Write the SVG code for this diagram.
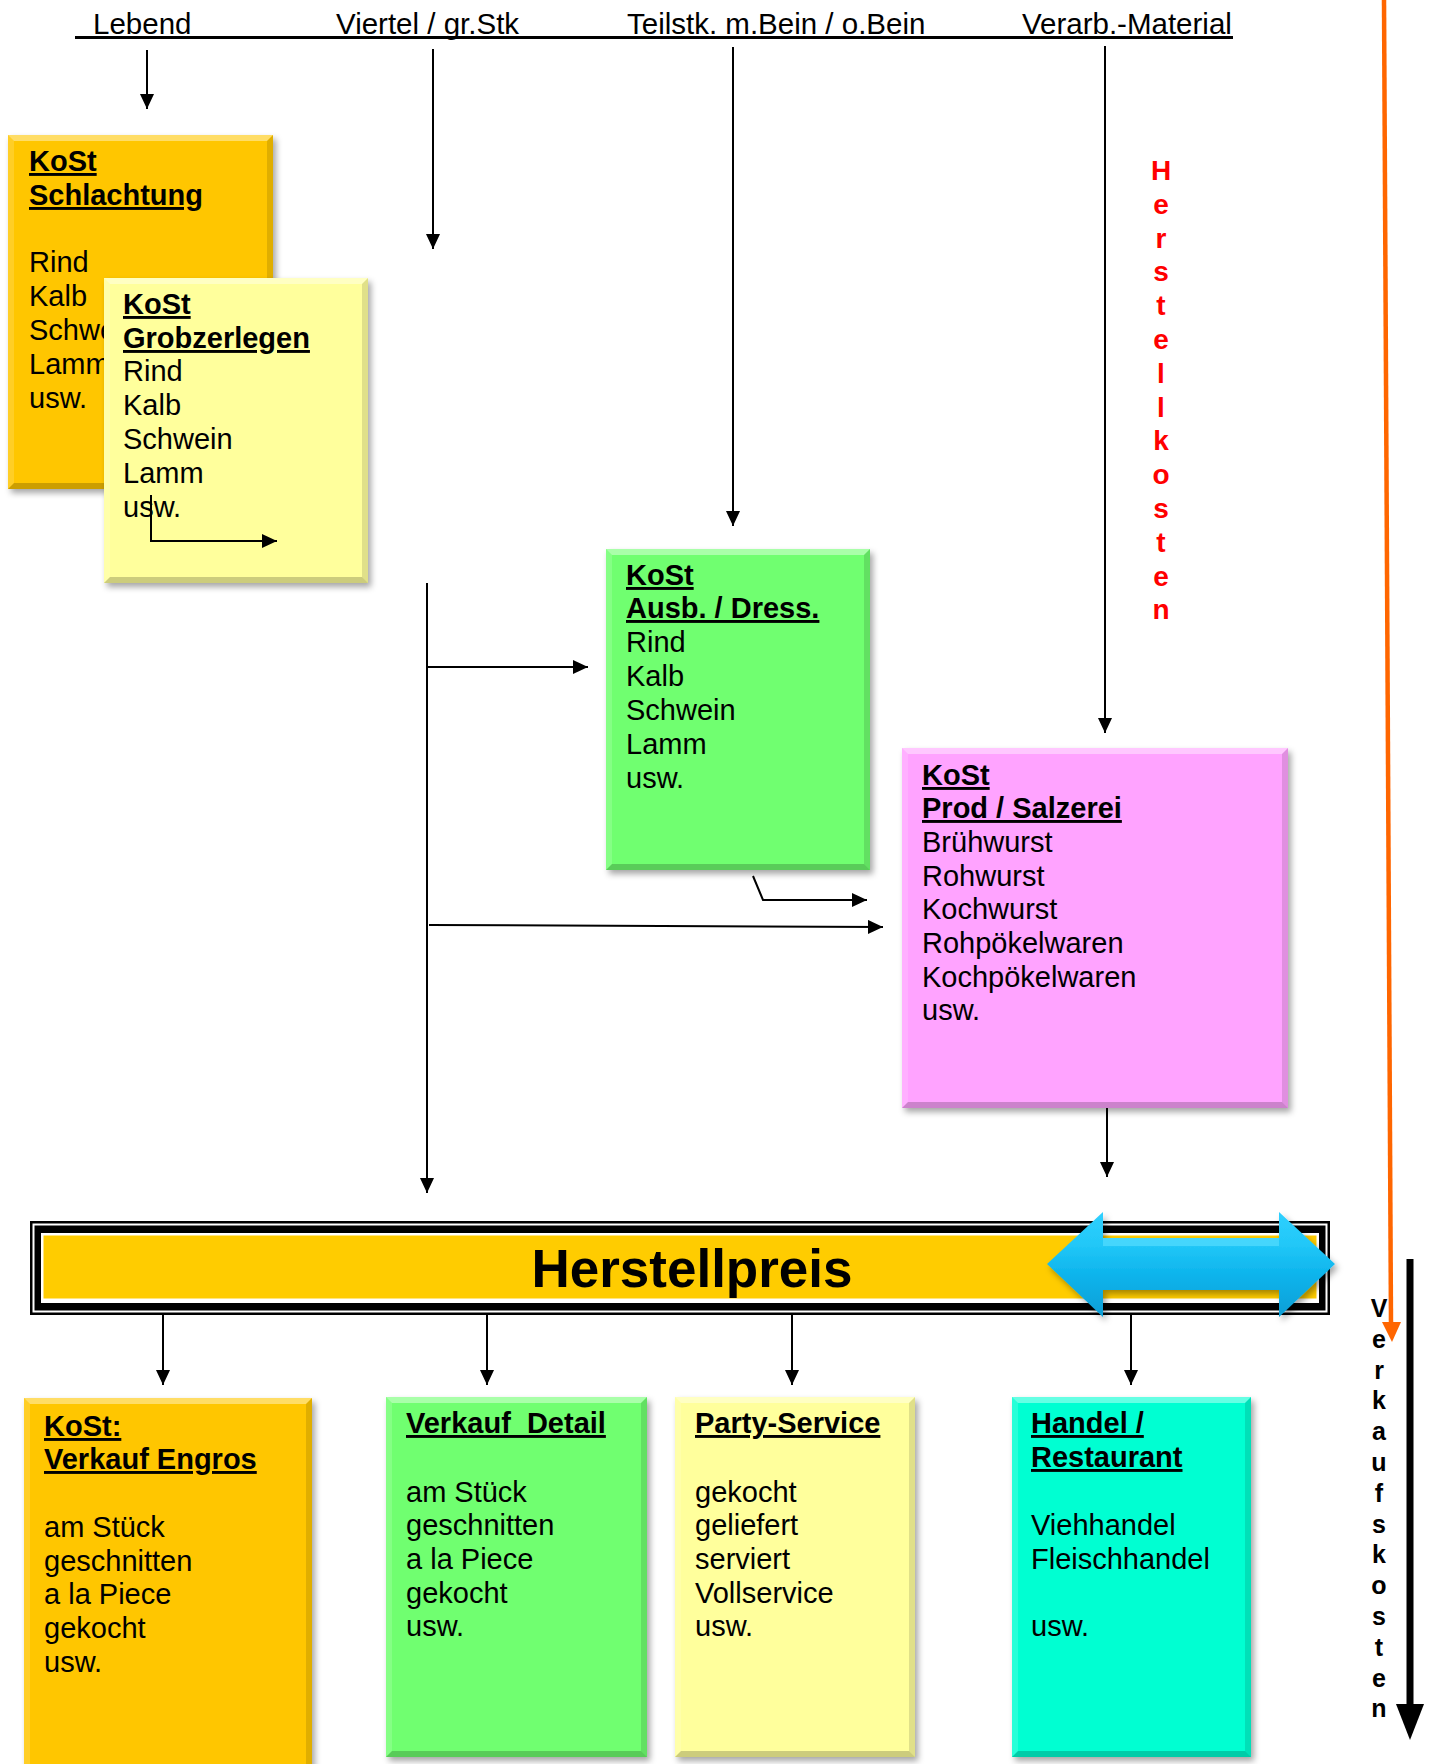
<svg xmlns="http://www.w3.org/2000/svg" width="1429" height="1764" viewBox="0 0 1429 1764">
<style>
.t{font-family:"Liberation Sans",Arial,sans-serif;font-size:29px;fill:#000}
.h{font-family:"Liberation Sans",Arial,sans-serif;font-size:29.5px;fill:#000}
.b{font-weight:bold;text-decoration:underline}
.ln{stroke:#000;stroke-width:2;fill:none;marker-end:url(#ah)}
.hl{fill:#fff;fill-opacity:.4}
.hl2{fill:#fff;fill-opacity:.15}
.sh{fill:#000;fill-opacity:.12}
.sh2{fill:#000;fill-opacity:.2}
.vk{font-family:"Liberation Sans",Arial,sans-serif;font-weight:bold;font-size:25px;fill:#000}
.hk{font-family:"Liberation Sans",Arial,sans-serif;font-weight:bold;font-size:28px;fill:#f00}
</style>
<defs>
<marker id="ah" markerUnits="userSpaceOnUse" markerWidth="15" markerHeight="14" refX="15" refY="7" orient="auto">
<path d="M0,0 L15,7 L0,14 z" fill="#000"/>
</marker>
<filter id="ds" x="-10%" y="-10%" width="125%" height="125%">
<feDropShadow dx="3" dy="4" stdDeviation="3" flood-color="#000" flood-opacity="0.35"/>
</filter>
<linearGradient id="blue" x1="0" y1="0" x2="0" y2="1">
<stop offset="0" stop-color="#2fd0ff"/>
<stop offset="0.3" stop-color="#22c8f8"/>
<stop offset="0.6" stop-color="#0db4ec"/>
<stop offset="1" stop-color="#0a9ed6"/>
</linearGradient>
</defs>
<rect width="1429" height="1764" fill="#fff"/>

<g id="header">
<line x1="75" y1="37.5" x2="1233" y2="37.5" stroke="#000" stroke-width="3"/>
<text class="h" x="93" y="34">Lebend</text>
<text class="h" x="336" y="34">Viertel / gr.Stk</text>
<text class="h" x="627" y="34">Teilstk. m.Bein / o.Bein</text>
<text class="h" x="1022" y="34">Verarb.-Material</text>
</g>

<g id="kost-schlachtung">
<rect x="8" y="135" width="265" height="354" fill="#FFC600" filter="url(#ds)"/>
<path class="hl" d="M8,135 H273 L267,141 H14 Z"/>
<path class="hl2" d="M8,135 L14,141 V483 L8,489 Z"/>
<path class="sh" d="M273,135 V489 L267,483 V141 Z"/>
<path class="sh2" d="M8,489 H273 L267,483 H14 Z"/>
<text class="t b" x="29" y="171">KoSt</text>
<text class="t b" x="29" y="205">Schlachtung</text>
<text class="t" x="29" y="272">Rind</text>
<text class="t" x="29" y="306">Kalb</text>
<text class="t" x="29" y="340">Schwe</text>
<text class="t" x="29" y="374">Lamm</text>
<text class="t" x="29" y="408">usw.</text>
</g>

<g id="kost-grobzerlegen">
<rect x="104" y="278" width="264" height="305" fill="#FFFF9C" filter="url(#ds)"/>
<path class="hl" d="M104,278 H368 L362,284 H110 Z"/>
<path class="hl2" d="M104,278 L110,284 V577 L104,583 Z"/>
<path class="sh" d="M368,278 V583 L362,577 V284 Z"/>
<path class="sh2" d="M104,583 H368 L362,577 H110 Z"/>
<text class="t b" x="123" y="314">KoSt</text>
<text class="t b" x="123" y="348">Grobzerlegen</text>
<text class="t" x="123" y="381">Rind</text>
<text class="t" x="123" y="415">Kalb</text>
<text class="t" x="123" y="449">Schwein</text>
<text class="t" x="123" y="483">Lamm</text>
<text class="t" x="123" y="517">usw.</text>
</g>

<g id="kost-ausb-dress">
<rect x="606" y="549" width="264" height="321" fill="#6FFF6F" filter="url(#ds)"/>
<path class="hl" d="M606,549 H870 L864,555 H612 Z"/>
<path class="hl2" d="M606,549 L612,555 V864 L606,870 Z"/>
<path class="sh" d="M870,549 V870 L864,864 V555 Z"/>
<path class="sh2" d="M606,870 H870 L864,864 H612 Z"/>
<text class="t b" x="626" y="585">KoSt</text>
<text class="t b" x="626" y="618">Ausb. / Dress.</text>
<text class="t" x="626" y="652">Rind</text>
<text class="t" x="626" y="686">Kalb</text>
<text class="t" x="626" y="720">Schwein</text>
<text class="t" x="626" y="754">Lamm</text>
<text class="t" x="626" y="788">usw.</text>
</g>

<g id="kost-prod-salzerei">
<rect x="902" y="748" width="386" height="360" fill="#FFA3FF" filter="url(#ds)"/>
<path class="hl" d="M902,748 H1288 L1282,754 H908 Z"/>
<path class="hl2" d="M902,748 L908,754 V1102 L902,1108 Z"/>
<path class="sh" d="M1288,748 V1108 L1282,1102 V754 Z"/>
<path class="sh2" d="M902,1108 H1288 L1282,1102 H908 Z"/>
<text class="t b" x="922" y="785">KoSt</text>
<text class="t b" x="922" y="818">Prod / Salzerei</text>
<text class="t" x="922" y="852">Brühwurst</text>
<text class="t" x="922" y="886">Rohwurst</text>
<text class="t" x="922" y="919">Kochwurst</text>
<text class="t" x="922" y="953">Rohpökelwaren</text>
<text class="t" x="922" y="987">Kochpökelwaren</text>
<text class="t" x="922" y="1020">usw.</text>
</g>

<g id="herstellkosten-label">
<text class="hk" text-anchor="middle"><tspan x="1161" y="180">H</tspan><tspan x="1161" dy="33.8">e</tspan><tspan x="1161" dy="33.8">r</tspan><tspan x="1161" dy="33.8">s</tspan><tspan x="1161" dy="33.8">t</tspan><tspan x="1161" dy="33.8">e</tspan><tspan x="1161" dy="33.8">l</tspan><tspan x="1161" dy="33.8">l</tspan><tspan x="1161" dy="33.8">k</tspan><tspan x="1161" dy="33.8">o</tspan><tspan x="1161" dy="33.8">s</tspan><tspan x="1161" dy="33.8">t</tspan><tspan x="1161" dy="33.8">e</tspan><tspan x="1161" dy="33.8">n</tspan></text>
</g>

<g id="herstellpreis">
<rect x="30" y="1221" width="1300" height="94" fill="#000"/>
<rect x="32.5" y="1223.5" width="1295" height="89" fill="#fff"/>
<rect x="34.5" y="1225.5" width="1291" height="85" fill="#000"/>
<rect x="41" y="1233" width="1278" height="70" fill="#fff"/>
<rect x="43.5" y="1235.5" width="1273" height="63" fill="#FFCC00"/>
<text x="692" y="1287" text-anchor="middle" style="font-family:'Liberation Sans',Arial,sans-serif;font-weight:bold;font-size:53px;fill:#000">Herstellpreis</text>
</g>

<g id="double-arrow">
<path d="M1047,1264 L1103,1212 V1238 H1279 V1212 L1335,1264 L1279,1317 V1290 H1103 V1317 Z" fill="url(#blue)" filter="url(#ds)"/>
<path d="M1103,1238 H1279 V1246 H1103 Z" fill="#5ee0ff" fill-opacity="0.6"/>
</g>

<g id="kost-verkauf-engros">
<rect x="24" y="1398" width="288" height="380" fill="#FFC600" filter="url(#ds)"/>
<path class="hl" d="M24,1398 H312 L306,1404 H30 Z"/>
<path class="hl2" d="M24,1398 L30,1404 V1778 L24,1778 Z"/>
<path class="sh" d="M312,1398 V1778 L306,1778 V1404 Z"/>
<text class="t b" x="44" y="1436">KoSt:</text>
<text class="t b" x="44" y="1469">Verkauf Engros</text>
<text class="t" x="44" y="1537">am Stück</text>
<text class="t" x="44" y="1571">geschnitten</text>
<text class="t" x="44" y="1604">a la Piece</text>
<text class="t" x="44" y="1638">gekocht</text>
<text class="t" x="44" y="1672">usw.</text>
</g>

<g id="verkauf-detail">
<rect x="386" y="1397" width="261" height="360" fill="#6FFF6F" filter="url(#ds)"/>
<path class="hl" d="M386,1397 H647 L641,1403 H392 Z"/>
<path class="hl2" d="M386,1397 L392,1403 V1751 L386,1757 Z"/>
<path class="sh" d="M647,1397 V1757 L641,1751 V1403 Z"/>
<path class="sh2" d="M386,1757 H647 L641,1751 H392 Z"/>
<text class="t b" x="406" y="1433" xml:space="preserve">Verkauf  Detail</text>
<text class="t" x="406" y="1502">am Stück</text>
<text class="t" x="406" y="1535">geschnitten</text>
<text class="t" x="406" y="1569">a la Piece</text>
<text class="t" x="406" y="1603">gekocht</text>
<text class="t" x="406" y="1636">usw.</text>
</g>

<g id="party-service">
<rect x="675" y="1397" width="240" height="360" fill="#FFFF9C" filter="url(#ds)"/>
<path class="hl" d="M675,1397 H915 L909,1403 H681 Z"/>
<path class="hl2" d="M675,1397 L681,1403 V1751 L675,1757 Z"/>
<path class="sh" d="M915,1397 V1757 L909,1751 V1403 Z"/>
<path class="sh2" d="M675,1757 H915 L909,1751 H681 Z"/>
<text class="t b" x="695" y="1433">Party-Service</text>
<text class="t" x="695" y="1502">gekocht</text>
<text class="t" x="695" y="1535">geliefert</text>
<text class="t" x="695" y="1569">serviert</text>
<text class="t" x="695" y="1603">Vollservice</text>
<text class="t" x="695" y="1636">usw.</text>
</g>

<g id="handel-restaurant">
<rect x="1012" y="1397" width="239" height="360" fill="#00FFD2" filter="url(#ds)"/>
<path class="hl" d="M1012,1397 H1251 L1245,1403 H1018 Z"/>
<path class="hl2" d="M1012,1397 L1018,1403 V1751 L1012,1757 Z"/>
<path class="sh" d="M1251,1397 V1757 L1245,1751 V1403 Z"/>
<path class="sh2" d="M1012,1757 H1251 L1245,1751 H1018 Z"/>
<text class="t b" x="1031" y="1433">Handel /</text>
<text class="t b" x="1031" y="1467">Restaurant</text>
<text class="t" x="1031" y="1535">Viehhandel</text>
<text class="t" x="1031" y="1569">Fleischhandel</text>
<text class="t" x="1031" y="1636">usw.</text>
</g>

<g id="verkaufskosten">
<text class="vk" text-anchor="middle"><tspan x="1379" y="1317">V</tspan><tspan x="1379" dy="30.8">e</tspan><tspan x="1379" dy="30.8">r</tspan><tspan x="1379" dy="30.8">k</tspan><tspan x="1379" dy="30.8">a</tspan><tspan x="1379" dy="30.8">u</tspan><tspan x="1379" dy="30.8">f</tspan><tspan x="1379" dy="30.8">s</tspan><tspan x="1379" dy="30.8">k</tspan><tspan x="1379" dy="30.8">o</tspan><tspan x="1379" dy="30.8">s</tspan><tspan x="1379" dy="30.8">t</tspan><tspan x="1379" dy="30.8">e</tspan><tspan x="1379" dy="30.8">n</tspan></text>
<rect x="1406.5" y="1259" width="7" height="447" fill="#000"/>
<path d="M1396,1704 H1424 L1410,1740 Z" fill="#000"/>
</g>

<g id="connectors">
<path class="ln" d="M147,50 V109"/>
<path class="ln" d="M433,49 V249"/>
<path class="ln" d="M733,47 V526"/>
<path class="ln" d="M1105,46 V733"/>
<path class="ln" d="M151,495 V541 H277"/>
<path class="ln" d="M427,583 V1193"/>
<path class="ln" d="M427,667 H588"/>
<path class="ln" d="M429,925 L883,927"/>
<path class="ln" d="M753,876 L763,900 H867"/>
<path class="ln" d="M1107,1108 V1177"/>
<path class="ln" d="M163,1315 V1385"/>
<path class="ln" d="M487,1315 V1385"/>
<path class="ln" d="M792,1315 V1385"/>
<path class="ln" d="M1131,1315 V1385"/>
<path d="M1384,0 L1391,1326" stroke="#FF6600" stroke-width="4.5" fill="none"/>
<path d="M1382,1322 H1401 L1392,1342 Z" fill="#FF6600"/>
</g>
</svg>
